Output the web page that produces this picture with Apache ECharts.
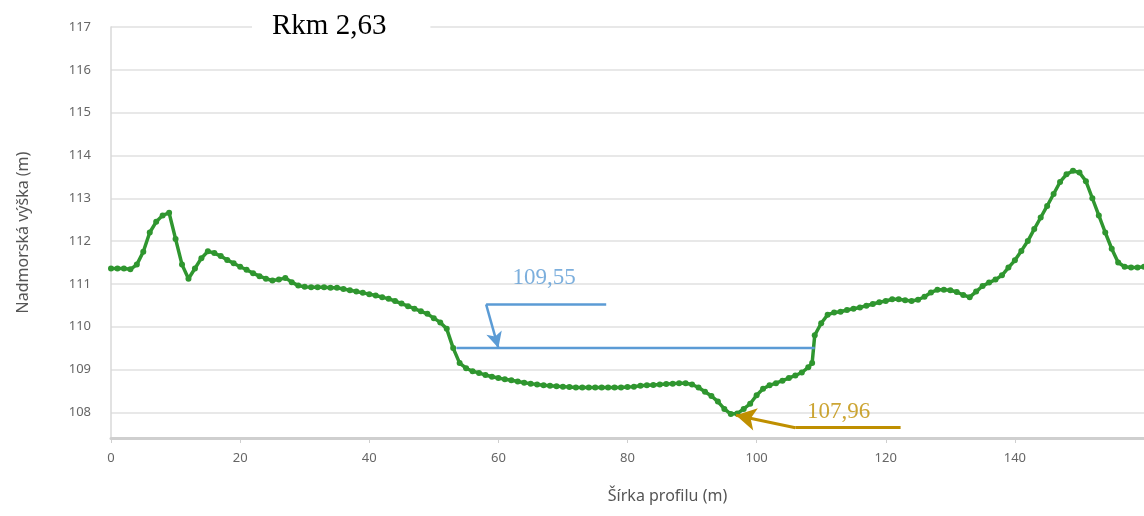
<!DOCTYPE html>
<html><head><meta charset="utf-8">
<script src="https://cdn.jsdelivr.net/npm/echarts@6/dist/echarts.min.js"></script>
<style>html,body{margin:0;padding:0;background:#fff}#c{width:1144px;height:516px}</style>
</head><body><div id="c"></div>
<script>
// Profile: distance across (m) and elevation (m n. m.)
const distance = [0,1,2,3,4,5,6,7,8,9,10,11,12,13,14,15,16,17,18,19,20,21,22,23,24,25,26,27,28,29,30,31,32,33,34,35,36,37,38,39,40,41,42,43,44,45,46,47,48,49,50,51,52,53,54,55,56,57,58,59,60,61,62,63,64,65,66,67,68,69,70,71,72,73,74,75,76,77,78,79,80,81,82,83,84,85,86,87,88,89,90,91,92,93,94,95,96,97,98,99,100,101,102,103,104,105,106,107,108,108.6,109,110,111,112,113,114,115,116,117,118,119,120,121,122,123,124,125,126,127,128,129,130,131,132,133,134,135,136,137,138,139,140,141,142,143,144,145,146,147,148,149,150,151,152,153,154,155,156,157,158,159,160];
const elevation = [111.36,111.36,111.36,111.34,111.45,111.75,112.2,112.45,112.6,112.66,112.05,111.45,111.12,111.36,111.6,111.76,111.72,111.65,111.56,111.48,111.4,111.33,111.25,111.18,111.12,111.08,111.1,111.14,111.04,110.96,110.93,110.92,110.92,110.92,110.91,110.91,110.88,110.85,110.82,110.79,110.76,110.73,110.69,110.65,110.6,110.54,110.48,110.42,110.36,110.3,110.2,110.1,109.95,109.5,109.15,109.03,108.96,108.92,108.87,108.83,108.8,108.77,108.75,108.72,108.69,108.67,108.65,108.63,108.62,108.61,108.6,108.59,108.58,108.58,108.58,108.58,108.58,108.58,108.58,108.58,108.59,108.6,108.62,108.63,108.64,108.65,108.66,108.67,108.68,108.68,108.65,108.58,108.48,108.38,108.25,108.08,107.96,107.97,108.08,108.2,108.4,108.55,108.63,108.68,108.74,108.8,108.86,108.93,109.05,109.15,109.8,110.08,110.28,110.33,110.35,110.39,110.42,110.45,110.49,110.53,110.57,110.6,110.64,110.64,110.62,110.6,110.63,110.7,110.8,110.86,110.86,110.85,110.81,110.74,110.69,110.82,110.95,111.03,111.1,111.2,111.38,111.55,111.77,112.0,112.28,112.55,112.82,113.1,113.38,113.56,113.64,113.6,113.4,113.0,112.6,112.2,111.82,111.5,111.4,111.38,111.38,111.4];

// Annotations
const waterLabel = '109,55';
const waterLevel = 109.5;
const waterFrom = 53.5, waterTo = 109.0;
const waterArrow = [[76.7, 110.52], [58.1, 110.52], [60.0, 109.5]];
const waterTextPos = [67.1, 111.13];

const bottomLabel = '107,96';
const bottomArrow = [[122.3, 107.64], [106.0, 107.64], [96.8, 107.93]];
const bottomTextPos = [112.7, 108.0];

const titleText = 'Rkm 2,63';
const xName = 'Šírka profilu (m)';
const yName = 'Nadmorská výška (m)';

const blue = '#5b9bd5';
const gold = '#bf8f00';
const green = '#2f962f';

const chart = echarts.init(document.getElementById('c'));
chart.setOption({
  animation: false,
  backgroundColor: '#fff',
  title: {
    text: titleText, left: 252, top: 12,
    backgroundColor: '#fff', padding: [0, 44, 0, 20],
    textStyle: { fontFamily: 'Liberation Serif', fontSize: 29, fontWeight: 'normal', color: '#000' }
  },
  grid: { left: 111, right: 0, top: 27, bottom: 78, containLabel: false },
  xAxis: {
    type: 'value', min: 0, max: 160, interval: 20,
    name: xName, nameLocation: 'middle', nameGap: 50,
    nameTextStyle: { fontFamily: 'Noto Sans', fontSize: 16, color: '#555', padding: [0, 0, 0, 80] },
    axisLine: { show: true, lineStyle: { color: '#cfcfcf', width: 3 } },
    axisTick: { show: true, length: 5, lineStyle: { color: '#cfcfcf' } },
    axisLabel: { fontFamily: 'Noto Sans', fontSize: 13, color: '#666', margin: 14, showMaxLabel: false },
    splitLine: { show: false }
  },
  yAxis: {
    type: 'value', min: 107.4, max: 117, splitNumber: 10,
    name: yName, nameLocation: 'middle', nameGap: 80,
    nameTextStyle: { fontFamily: 'Noto Sans', fontSize: 16, color: '#555' },
    axisLine: { show: true, lineStyle: { color: '#d8d8d8', width: 1.5 } },
    axisTick: { show: false },
    axisLabel: { fontFamily: 'Noto Sans', fontSize: 13, color: '#666', margin: 20, showMinLabel: false,
      formatter: v => (Math.abs(v - Math.round(v)) < 1e-6 ? String(Math.round(v)) : '') },
    splitLine: { show: true, lineStyle: { color: '#e8e8e8', width: 2 } }
  },
  series: [
    {
      type: 'line', name: 'profil',
      data: distance.map((d, i) => [d, elevation[i]]),
      lineStyle: { color: green, width: 3.5 },
      itemStyle: { color: green },
      symbol: 'circle', symbolSize: 6, showSymbol: true,
      z: 3
    },
    {
      type: 'line', name: 'hladina',
      data: [[waterFrom, waterLevel], [waterTo, waterLevel]],
      lineStyle: { color: blue, width: 2.5 }, symbol: 'none', z: 4,
      markLine: {
        silent: true, animation: false, label: { show: false },
        lineStyle: { color: blue, width: 2.5, type: 'solid' },
        symbol: ['none', 'none'],
        data: [
          [{ coord: waterArrow[0] }, { coord: waterArrow[1] }],
          [{ coord: waterArrow[1], symbol: 'none' }, { coord: waterArrow[2], symbol: 'arrow', symbolSize: [12, 16] }]
        ]
      }
    },
    {
      type: 'line', name: 'dno', data: [],
      markLine: {
        silent: true, animation: false, label: { show: false },
        lineStyle: { color: gold, width: 3, type: 'solid' },
        symbol: ['none', 'none'],
        data: [
          [{ coord: bottomArrow[0] }, { coord: bottomArrow[1] }],
          [{ coord: bottomArrow[1], symbol: 'none' }, { coord: bottomArrow[2], symbol: 'arrow', symbolSize: [17, 20] }]
        ]
      }
    },
    {
      type: 'scatter', symbolSize: 0, silent: true, z: 5,
      data: [
        { value: waterTextPos, name: waterLabel, label: { color: blue } },
        { value: bottomTextPos, name: bottomLabel, label: { color: gold } }
      ],
      label: { show: true, position: 'inside', formatter: '{b}', fontFamily: 'Liberation Serif', fontSize: 23 }
    }
  ]
});
</script>
</body></html>
